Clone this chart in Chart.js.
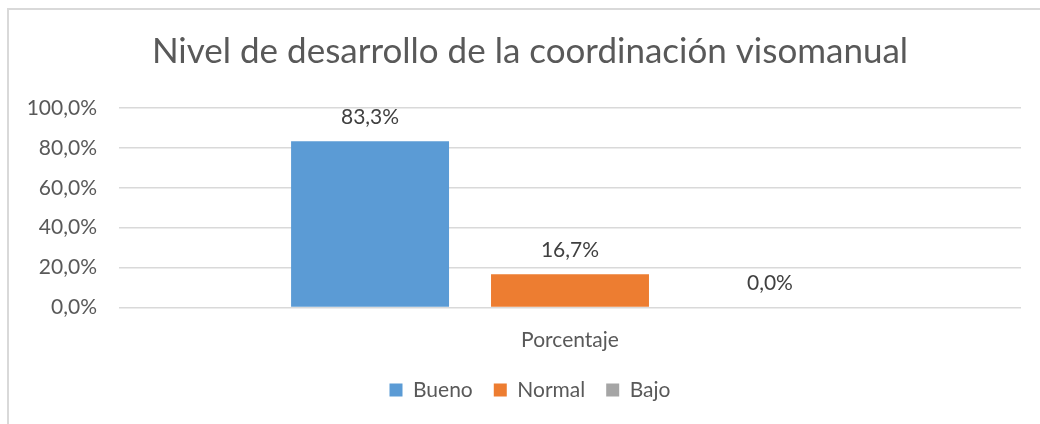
<!DOCTYPE html>
<html>
<head>
<meta charset="utf-8">
<script src="https://cdn.jsdelivr.net/npm/chart.js@4"></script>
<style>
  html, body { margin: 0; padding: 0; background: #fff; }
  #wrap { width: 1040px; height: 424px; position: relative; }
</style>
</head>
<body>
<div id="wrap"><canvas id="chart"></canvas></div>
<script>
/* DADOS */
const categories = ['Porcentaje'];
const seriesNames = ['Bueno', 'Normal', 'Bajo'];
const seriesValues = [83.3, 16.7, 0.0];
const seriesColors = ['#5B9BD5', '#ED7D31', '#A5A5A5'];
const yTicks = [0, 20, 40, 60, 80, 100];

const FONT = 'Lato, "Open Sans", sans-serif';

function fmt(v) {
  return v.toFixed(1).replace('.', ',') + '%';
}

/* borde del gráfico */
const frame = {
  id: 'frame',
  afterLayout(chart) {
    // que las etiquetas del eje Y no queden recortadas
    chart.scales.y.left = 0;
  },
  beforeDraw(chart) {
    const c = chart.ctx;
    c.save();
    c.fillStyle = '#fff';
    c.fillRect(0, 0, chart.width, chart.height);
    c.strokeStyle = '#d9d9d9';
    c.lineWidth = 2;
    c.strokeRect(8, 9, 1100, 600);
    c.restore();
  }
};

/* etiquetas de valores */
const valueLabels = {
  id: 'valueLabels',
  afterDatasetsDraw(chart) {
    const c = chart.ctx;
    c.save();
    c.font = '21px ' + FONT;
    c.fillStyle = '#404040';
    c.textAlign = 'center';
    c.textBaseline = 'middle';
    chart.data.datasets.forEach((ds, i) => {
      chart.getDatasetMeta(i).data.forEach((bar, j) => {
        c.fillText(fmt(ds.data[j]), bar.x, bar.y - 24);
      });
    });
    c.restore();
  }
};

const ctx = document.getElementById('chart').getContext('2d');

const chart = new Chart(ctx, {
  type: 'bar',
  data: {
    labels: categories,
    datasets: seriesNames.map((name, i) => ({
      label: name,
      data: [seriesValues[i]],
      backgroundColor: seriesColors[i],
      borderWidth: 0,
      categoryPercentage: 0.665,
      barPercentage: 0.79
    }))
  },
  options: {
    responsive: true,
    maintainAspectRatio: false,
    animation: false,
    layout: { padding: { left: 39, right: 19, top: 0, bottom: 13.5 } },
    plugins: {
      title: {
        display: true,
        text: 'Nivel de desarrollo de la coordinación visomanual',
        color: '#595959',
        font: { family: FONT, size: 35, weight: 'normal' },
        padding: { top: 31, bottom: 35 }
      },
      legend: {
        position: 'bottom',
        labels: {
          color: '#595959',
          font: { family: FONT, size: 21 },
          boxWidth: 13,
          boxHeight: 13,
          padding: 21
        }
      },
      tooltip: { enabled: false }
    },
    scales: {
      x: {
        grid: { display: false },
        border: { display: false },
        afterFit(scale) {
          scale.height = 51;
        },
        ticks: { color: '#595959', font: { family: FONT, size: 21 }, padding: 12 }
      },
      y: {
        min: 0,
        max: 100,
        afterBuildTicks(scale) {
          scale.ticks = yTicks.map(v => ({ value: v }));
        },
        afterFit(scale) {
          scale.width = 80;
        },
        grid: { color: '#d9d9d9', lineWidth: 1.5, drawTicks: false },
        border: { display: false },
        ticks: {
          color: '#595959',
          font: { family: FONT, size: 21 },
          padding: 22,
          callback: v => fmt(v)
        }
      }
    }
  },
  plugins: [frame, valueLabels]
});
</script>
</body>
</html>
